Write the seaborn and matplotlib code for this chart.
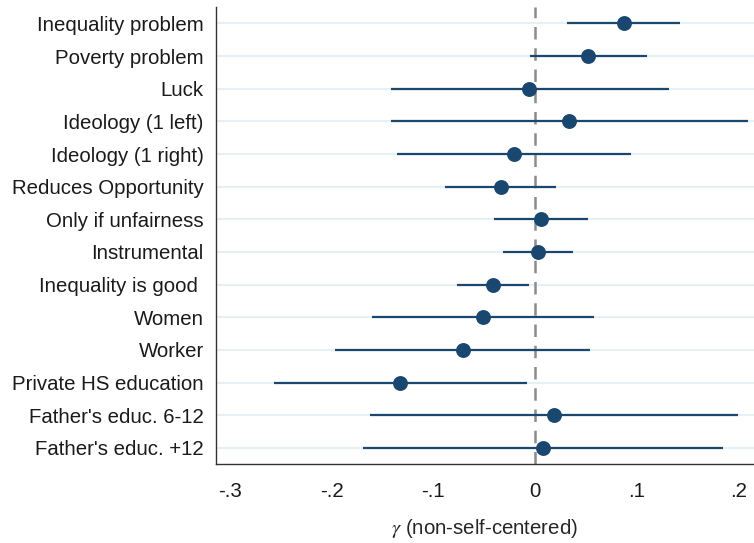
import matplotlib
matplotlib.use('Agg')
import matplotlib.pyplot as plt
import seaborn as sns
import pandas as pd

labels = ['Inequality problem', 'Poverty problem', 'Luck', 'Ideology (1 left)',
          'Ideology (1 right)', 'Reduces Opportunity', 'Only if unfairness',
          'Instrumental', 'Inequality is good ', 'Women', 'Worker',
          'Private HS education', "Father's educ. 6-12", "Father's educ. +12"]
coef = [0.087, 0.052, -0.006, 0.033, -0.021, -0.034, 0.006, 0.003, -0.041,
        -0.051, -0.071, -0.133, 0.018, 0.008]
ci_low = [0.031, -0.005, -0.142, -0.142, -0.136, -0.089, -0.040, -0.032, -0.077,
          -0.160, -0.197, -0.257, -0.162, -0.169]
ci_high = [0.142, 0.110, 0.131, 0.209, 0.094, 0.020, 0.052, 0.037, -0.006,
           0.058, 0.054, -0.008, 0.199, 0.185]
xticks = [-0.3, -0.2, -0.1, 0, 0.1, 0.2]
xticklabels = ['-.3', '-.2', '-.1', '0', '.1', '.2']

df = pd.DataFrame({'label': labels, 'coef': coef, 'lo': ci_low, 'hi': ci_high})

sns.set_style('white')
plt.rcParams['font.family'] = ['Liberation Sans', 'DejaVu Sans']
plt.rcParams['mathtext.fontset'] = 'stix'
plt.rcParams['text.color'] = '#1a1a1a'
plt.rcParams['xtick.color'] = '#1a1a1a'
plt.rcParams['ytick.color'] = '#1a1a1a'

navy = '#1a476f'
fig = plt.figure(figsize=(7.54, 5.43), dpi=100)
ax = fig.add_axes([0.286, 0.145, 0.714, 0.842])

for i in range(len(labels)):
    ax.axhline(i, color='#e6eff2', lw=1.5, zorder=0)
ax.axvline(0, color='#8c8c8c', lw=1.8, ls=(0, (5, 3.5)), zorder=1)

ax.hlines(df['label'], df['lo'], df['hi'], color=navy, lw=1.6, zorder=2)
sns.scatterplot(data=df, x='coef', y='label', ax=ax, color=navy, s=115,
                edgecolor=navy, linewidth=0, zorder=3)

ax.set_ylim(len(labels) - 0.5, -0.5)
ax.set_xlim(-0.314, 0.215)
ax.set_xticks(xticks)
ax.set_xticklabels(xticklabels)
ax.set_ylabel('')
ax.set_xlabel(r'$\gamma$ (non-self-centered)', fontsize=14.7, labelpad=11)

for s in ['top', 'right']:
    ax.spines[s].set_visible(False)
for s in ['left', 'bottom']:
    ax.spines[s].set_color('#333333')
    ax.spines[s].set_linewidth(1.0)
ax.tick_params(axis='y', length=6, width=1, color='#333333', labelsize=14.7, pad=2.5)
ax.tick_params(axis='x', length=6, width=1, color='#333333', labelsize=14.7, pad=7)

fig.savefig('out.png', dpi=100)
